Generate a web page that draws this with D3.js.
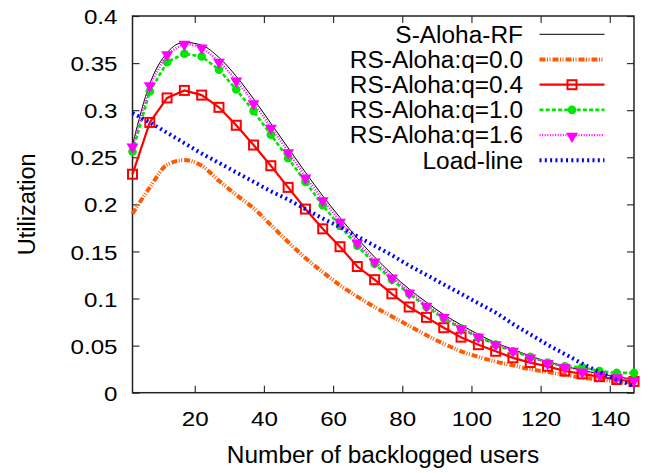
<!DOCTYPE html>
<html>
<head>
<meta charset="utf-8">
<script src="https://cdn.jsdelivr.net/npm/d3@7"></script>
<style>
  body { margin: 0; background: #fff; }
  text { font-family: "Liberation Sans", Arial, sans-serif; fill: #000; }
</style>
</head>
<body>
<div id="chart"></div>
<script>
// number of backlogged users (x)
const users = [2, 7, 12, 17, 22, 27, 32, 37, 42, 47, 52, 57, 62, 67, 72, 77, 82, 87, 92, 97,
               102, 107, 112, 117, 122, 127, 132, 137, 142, 147];

const sAlohaRF = [0.263, 0.328, 0.361, 0.372, 0.369, 0.356, 0.336, 0.312, 0.286, 0.260,
                  0.234, 0.209, 0.186, 0.164, 0.144, 0.126, 0.110, 0.096, 0.083, 0.072,
                  0.062, 0.053, 0.046, 0.039, 0.033, 0.028, 0.024, 0.020, 0.017, 0.014];
const rsQ00 = [0.190, 0.218, 0.242, 0.247, 0.241, 0.225, 0.210, 0.196, 0.178, 0.160,
               0.143, 0.128, 0.114, 0.102, 0.091, 0.081, 0.071, 0.061, 0.052, 0.044,
               0.038, 0.033, 0.029, 0.025, 0.022, 0.019, 0.016, 0.014, 0.012, 0.011];
const rsQ04 = [0.232, 0.287, 0.313, 0.321, 0.316, 0.303, 0.284, 0.263, 0.241, 0.218,
               0.195, 0.174, 0.155, 0.134, 0.120, 0.105, 0.091, 0.080, 0.069, 0.059,
               0.051, 0.044, 0.037, 0.032, 0.028, 0.023, 0.020, 0.017, 0.014, 0.012];
const rsQ10 = [0.256, 0.320, 0.351, 0.360, 0.357, 0.343, 0.322, 0.299, 0.274, 0.249,
               0.224, 0.199, 0.177, 0.156, 0.137, 0.120, 0.105, 0.091, 0.079, 0.068,
               0.059, 0.051, 0.044, 0.038, 0.032, 0.028, 0.027, 0.023, 0.021, 0.021];
const rsQ16 = [0.262, 0.327, 0.360, 0.371, 0.367, 0.352, 0.332, 0.308, 0.282, 0.256,
               0.229, 0.205, 0.182, 0.160, 0.140, 0.123, 0.107, 0.093, 0.081, 0.069,
               0.060, 0.052, 0.045, 0.038, 0.032, 0.028, 0.023, 0.020, 0.017, 0.014];
const loadLine = [0.297, 0.287, 0.276, 0.265, 0.254, 0.244, 0.234, 0.224, 0.214, 0.205,
                  0.195, 0.185, 0.176, 0.166, 0.156, 0.146, 0.135, 0.125, 0.115, 0.105,
                  0.095, 0.085, 0.073, 0.062, 0.051, 0.041, 0.031, 0.022, 0.014, 0.007];

const seriesNames = ['S-Aloha-RF', 'RS-Aloha:q=0.0', 'RS-Aloha:q=0.4',
                     'RS-Aloha:q=1.0', 'RS-Aloha:q=1.6', 'Load-line'];

const xTicks = [20, 40, 60, 80, 100, 120, 140];
const xTickLabels = ['20', '40', '60', '80', '100', '120', '140'];
const yTicks = [0, 0.05, 0.1, 0.15, 0.2, 0.25, 0.3, 0.35, 0.4];
const yTickLabels = ['0', '0.05', '0.1', '0.15', '0.2', '0.25', '0.3', '0.35', '0.4'];

const width = 659, height = 473;
const margin = {left: 132.5, right: 25, top: 16, bottom: 80.3};

const svg = d3.select('#chart').append('svg')
    .attr('width', width)
    .attr('height', height);

const x = d3.scaleLinear().domain([2, 147]).range([margin.left, width - margin.right]);
const y = d3.scaleLinear().domain([0, 0.4]).range([height - margin.bottom, margin.top]);

// line styles per series
const styles = [
    {data: sAlohaRF, color: '#000', width: 1, dash: null, curve: d3.curveMonotoneX, marker: null},
    {data: rsQ00, color: '#ff5a00', width: 4, dash: '6,1.5,1,1.5,1,2', curve: d3.curveMonotoneX, marker: null},
    {data: rsQ04, color: '#ff0000', width: 2.2, dash: null, curve: d3.curveLinear, marker: 'square'},
    {data: rsQ10, color: '#00e600', width: 2.6, dash: '4,2.2', curve: d3.curveLinear, marker: 'circle'},
    {data: rsQ16, color: '#ff00ff', width: 2.4, dash: '1,1.6', curve: d3.curveLinear, marker: 'triangle'},
    {data: loadLine, color: '#0000ff', width: 4, dash: '2,3.3', curve: d3.curveMonotoneX, marker: null}
];

function drawMarker(g, type, color, cx, cy) {
    if (type === 'square') {
        g.append('rect')
            .attr('x', cx - 4.5).attr('y', cy - 4.5)
            .attr('width', 9).attr('height', 9)
            .attr('fill', 'none')
            .attr('stroke', color)
            .attr('stroke-width', 2);
    } else if (type === 'circle') {
        g.append('circle')
            .attr('cx', cx).attr('cy', cy).attr('r', 4.3)
            .attr('fill', color);
    } else if (type === 'triangle') {
        g.append('path')
            .attr('d', d3.symbol().type(d3.symbolTriangle).size(62)())
            .attr('transform', 'translate(' + cx + ',' + (cy + 1) + ') rotate(180)')
            .attr('fill', color);
    }
}

// axes: ticks inside on all four sides
const fontScale = 1.15;
const xAxis = svg.append('g')
    .attr('transform', 'translate(0,' + y(0) + ')')
    .call(d3.axisBottom(x).tickValues(xTicks).tickSize(-7).tickPadding(18.5)
        .tickFormat((d, i) => xTickLabels[i]));
const yAxis = svg.append('g')
    .attr('transform', 'translate(' + x(2) + ',0)')
    .call(d3.axisLeft(y).tickValues(yTicks).tickSize(-7).tickPadding(0)
        .tickFormat((d, i) => yTickLabels[i]));
svg.append('g')
    .attr('transform', 'translate(0,' + y(0.4) + ')')
    .call(d3.axisTop(x).tickValues(xTicks).tickSize(-7).tickFormat(''));
svg.append('g')
    .attr('transform', 'translate(' + x(147) + ',0)')
    .call(d3.axisRight(y).tickValues(yTicks).tickSize(-7).tickFormat(''));

svg.selectAll('.domain').remove();
svg.selectAll('.tick line').attr('stroke', '#333').attr('stroke-width', 1.2);
xAxis.selectAll('text')
    .style('font-size', '21px')
    .attr('font-family', null)
    .attr('transform', 'scale(' + fontScale + ',1)');
yAxis.selectAll('text')
    .style('font-size', '21px')
    .attr('font-family', null)
    .attr('x', 0)
    .attr('dy', '0.36em')
    .attr('transform', 'translate(-15,0) scale(' + fontScale + ',1)');

// frame
svg.append('rect')
    .attr('x', x(2)).attr('y', y(0.4))
    .attr('width', x(147) - x(2)).attr('height', y(0) - y(0.4))
    .attr('fill', 'none')
    .attr('stroke', '#222')
    .attr('stroke-width', 1.5);

// series
styles.forEach((s, k) => {
    const line = d3.line()
        .x((d, i) => x(users[i]))
        .y(d => y(d))
        .curve(s.curve);
    const g = svg.append('g');
    g.append('path')
        .datum(s.data)
        .attr('d', line)
        .attr('fill', 'none')
        .attr('stroke', s.color)
        .attr('stroke-width', s.width)
        .attr('stroke-dasharray', s.dash);
    if (s.marker) {
        s.data.forEach((v, i) => drawMarker(g, s.marker, s.color, x(users[i]), y(v)));
    }
});

// legend
const legend = svg.append('g');
seriesNames.forEach((name, k) => {
    const s = styles[k];
    const ly = 34.3 + k * 25.2;
    legend.append('text')
        .attr('transform', 'translate(523,' + (ly + 8.2) + ') scale(1.04,1)')
        .attr('text-anchor', 'end')
        .style('font-size', '23.5px')
        .text(name);
    legend.append('line')
        .attr('x1', 539.5).attr('x2', 604.5)
        .attr('y1', ly).attr('y2', ly)
        .attr('stroke', s.color)
        .attr('stroke-width', s.width)
        .attr('stroke-dasharray', s.dash);
    if (s.marker) drawMarker(legend, s.marker, s.color, 572, ly);
});

// axis titles
svg.append('text')
    .attr('transform', 'translate(383,463.3) scale(1.04,1)')
    .attr('text-anchor', 'middle')
    .style('font-size', '23.5px')
    .text('Number of backlogged users');
svg.append('text')
    .attr('transform', 'translate(35,' + ((y(0) + y(0.4)) / 2) + ') rotate(-90)')
    .attr('text-anchor', 'middle')
    .style('font-size', '23.5px')
    .text('Utilization');
</script>
</body>
</html>
